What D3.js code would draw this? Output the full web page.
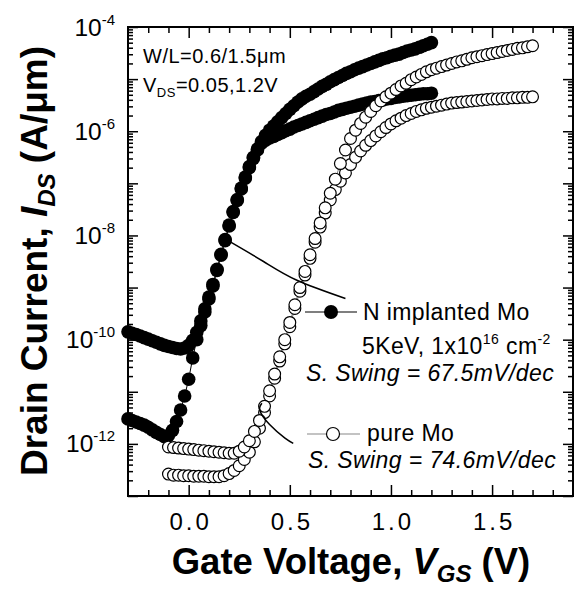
<!DOCTYPE html>
<html>
<head>
<meta charset="utf-8">
<script src="https://cdn.jsdelivr.net/npm/d3@7"></script>
<style>
  body { margin: 0; background: #fff; }
  text { font-family: "Liberation Sans", Arial, Helvetica, sans-serif; fill: #000; }
</style>
</head>
<body>
<div class="chart"></div>
<script>
// gate voltage steps (V)
const nVgs = [-0.30,-0.28,-0.26,-0.24,-0.22,-0.20,-0.18,-0.16,-0.14,-0.12,-0.10,-0.08,-0.06,-0.04,-0.02,
  0.00,0.02,0.04,0.06,0.08,0.10,0.12,0.14,0.16,0.18,0.20,0.22,0.24,0.26,0.28,0.30,0.32,0.34,0.36,0.38,
  0.40,0.42,0.44,0.46,0.48,0.50,0.52,0.54,0.56,0.58,0.60,0.62,0.64,0.66,0.68,0.70,0.72,0.74,0.76,0.78,
  0.80,0.82,0.84,0.86,0.88,0.90,0.92,0.94,0.96,0.98,1.00,1.02,1.04,1.06,1.08,1.10,1.12,1.14,1.16,1.18,1.20];
// N implanted Mo, log10(IDS), VDS = 0.05 V
const nLow = [-11.52,-11.55,-11.58,-11.61,-11.64,-11.68,-11.73,-11.78,-11.82,-11.86,-11.84,-11.74,-11.57,-11.35,-11.08,
  -10.76,-10.35,-10.00,-9.73,-9.47,-9.22,-8.97,-8.67,-8.38,-8.10,-7.82,-7.56,-7.33,-7.11,-6.90,-6.70,-6.52,-6.36,-6.23,-6.17,
  -6.13,-6.10,-6.06,-6.03,-5.99,-5.96,-5.92,-5.89,-5.86,-5.83,-5.80,-5.77,-5.74,-5.71,-5.68,-5.66,-5.63,-5.60,-5.58,-5.56,
  -5.54,-5.52,-5.50,-5.48,-5.46,-5.44,-5.43,-5.41,-5.40,-5.38,-5.37,-5.35,-5.34,-5.33,-5.32,-5.31,-5.30,-5.29,-5.28,-5.28,-5.27];
// N implanted Mo, VDS = 1.2 V
const nHigh = [-9.85,-9.88,-9.90,-9.93,-9.96,-9.99,-10.02,-10.05,-10.08,-10.11,-10.13,-10.15,-10.17,-10.18,-10.16,
  -10.11,-10.01,-9.86,-9.64,-9.41,-9.18,-8.94,-8.65,-8.36,-8.08,-7.80,-7.54,-7.31,-7.09,-6.88,-6.68,-6.50,-6.34,-6.20,-6.08,
  -5.98,-5.90,-5.82,-5.74,-5.66,-5.58,-5.51,-5.44,-5.38,-5.33,-5.29,-5.24,-5.19,-5.14,-5.10,-5.05,-5.01,-4.97,-4.93,-4.89,
  -4.86,-4.82,-4.79,-4.76,-4.73,-4.70,-4.67,-4.64,-4.61,-4.59,-4.56,-4.54,-4.52,-4.49,-4.46,-4.44,-4.42,-4.39,-4.36,-4.33,-4.30];

const pVgs = [-0.100,-0.075,-0.050,-0.025,0.000,0.025,0.050,0.075,0.100,0.125,0.150,0.175,0.200,0.225,0.250,0.275,
  0.300,0.325,0.350,0.375,0.400,0.425,0.450,0.475,0.500,0.525,0.550,0.575,0.600,0.625,0.650,0.675,0.700,0.725,
  0.750,0.775,0.800,0.825,0.850,0.875,0.900,0.925,0.950,0.975,1.000,1.025,1.050,1.075,1.100,1.125,1.150,1.175,
  1.200,1.225,1.250,1.275,1.300,1.325,1.350,1.375,1.400,1.425,1.450,1.475,1.500,1.525,1.550,1.575,1.600,1.625,
  1.650,1.675,1.700];
// pure Mo, VDS = 0.05 V
const pLow = [-12.58,-12.60,-12.60,-12.61,-12.61,-12.62,-12.62,-12.62,-12.63,-12.63,-12.63,-12.61,-12.57,-12.51,-12.42,-12.30,
  -12.16,-11.96,-11.70,-11.40,-11.08,-10.74,-10.41,-10.08,-9.75,-9.40,-9.07,-8.76,-8.44,-8.13,-7.84,-7.57,-7.32,-7.12,
  -6.96,-6.80,-6.64,-6.50,-6.38,-6.27,-6.18,-6.09,-6.01,-5.93,-5.86,-5.80,-5.75,-5.70,-5.66,-5.62,-5.59,-5.56,
  -5.54,-5.52,-5.50,-5.48,-5.46,-5.45,-5.44,-5.43,-5.42,-5.41,-5.40,-5.39,-5.38,-5.38,-5.37,-5.37,-5.36,-5.36,
  -5.35,-5.35,-5.34];
// pure Mo, VDS = 1.2 V
const pHigh = [-12.06,-12.07,-12.08,-12.09,-12.10,-12.11,-12.12,-12.13,-12.14,-12.15,-12.16,-12.17,-12.18,-12.18,-12.14,-12.06,
  -11.94,-11.76,-11.55,-11.28,-10.98,-10.66,-10.33,-10.00,-9.67,-9.33,-9.00,-8.69,-8.37,-8.06,-7.76,-7.47,-7.19,-6.92,
  -6.62,-6.36,-6.14,-5.98,-5.85,-5.73,-5.62,-5.51,-5.42,-5.34,-5.27,-5.20,-5.13,-5.08,-5.01,-4.96,-4.91,-4.86,
  -4.82,-4.79,-4.76,-4.73,-4.70,-4.67,-4.65,-4.62,-4.59,-4.57,-4.55,-4.53,-4.51,-4.49,-4.47,-4.45,-4.43,-4.41,
  -4.40,-4.38,-4.36];

const xMajor = [0.0, 0.5, 1.0, 1.5];
const yLabelExps = [-4, -6, -8, -10, -12];

// swing fit lines (V, log10 I)
const swingN = [[0.195, -8.1], [0.37, -8.5], [0.535, -8.86], [0.775, -9.21]];
const swingP = [[0.362, -11.22], [0.352, -11.36], [0.40, -11.63], [0.476, -11.89], [0.517, -11.99]];

const dims = { width: 578, height: 590 };
const m = { top: 27, right: 5, bottom: 94, left: 128 };

const svg = d3.select(".chart").append("svg")
  .attr("width", dims.width).attr("height", dims.height);

const x = d3.scaleLinear().domain([-0.3, 1.9]).range([m.left, dims.width - m.right]);
const y = d3.scaleLog().domain([1e-13, 1e-4]).range([dims.height - m.bottom, m.top]);

const x0 = m.left, x1 = dims.width - m.right, y0 = dims.height - m.bottom, y1 = m.top;

// ticks
const xMinor = d3.range(-2, 19).map(d => d / 10).filter(d => !xMajor.some(v => Math.abs(v - d) < 1e-9));
const yMajor = d3.range(-13, -3).map(e => Math.pow(10, e));
const yMinor = [];
d3.range(-13, -4).forEach(e => { for (let k = 2; k < 10; k++) yMinor.push(k * Math.pow(10, e)); });

function styleAxis(g) {
  g.select(".domain").remove();
  g.selectAll("line").attr("stroke", "#000").attr("stroke-width", 1.5);
}

svg.append("g").attr("transform", `translate(0,${y0})`)
  .call(d3.axisBottom(x).tickValues(xMinor).tickSize(-6).tickFormat("")).call(styleAxis);
svg.append("g").attr("transform", `translate(0,${y0})`)
  .call(d3.axisBottom(x).tickValues(xMajor).tickSize(-11).tickPadding(17).tickFormat(d3.format(".1f")))
  .call(styleAxis)
  .selectAll("text").style("font-size", "24px").style("letter-spacing", "3px").attr("dx", 1.5).attr("fill", "#000");
svg.append("g").attr("transform", `translate(0,${y1})`)
  .call(d3.axisTop(x).tickValues(xMinor).tickSize(-6).tickFormat("")).call(styleAxis);
svg.append("g").attr("transform", `translate(0,${y1})`)
  .call(d3.axisTop(x).tickValues(xMajor).tickSize(-11).tickFormat("")).call(styleAxis);

svg.append("g").attr("transform", `translate(${x0},0)`)
  .call(d3.axisLeft(y).tickValues(yMinor).tickSize(-5).tickFormat("")).call(styleAxis);
svg.append("g").attr("transform", `translate(${x0},0)`)
  .call(d3.axisLeft(y).tickValues(yMajor).tickSize(-10).tickFormat("")).call(styleAxis);
svg.append("g").attr("transform", `translate(${x1},0)`)
  .call(d3.axisRight(y).tickValues(yMinor).tickSize(-5).tickFormat("")).call(styleAxis);
svg.append("g").attr("transform", `translate(${x1},0)`)
  .call(d3.axisRight(y).tickValues(yMajor).tickSize(-10).tickFormat("")).call(styleAxis);

// y tick labels 10^n
const yl = svg.append("g").selectAll("text").data(yLabelExps).join("text")
  .attr("x", 115).attr("y", d => y(Math.pow(10, d)) + 8.5)
  .attr("text-anchor", "end").style("font-size", "24.5px");
yl.append("tspan").text("10");
yl.append("tspan").attr("dy", -11).style("font-size", "15px").text(d => d);

// frame
svg.append("rect").attr("x", x0).attr("y", y1).attr("width", x1 - x0).attr("height", y0 - y1)
  .attr("fill", "none").attr("stroke", "#000").attr("stroke-width", 2);

// series
const series = [
  { vg: nVgs, lg: nLow, filled: true },
  { vg: nVgs, lg: nHigh, filled: true },
  { vg: pVgs, lg: pLow, filled: false },
  { vg: pVgs, lg: pHigh, filled: false }
];
const line = d3.line().x(d => x(d[0])).y(d => y(Math.pow(10, d[1])));

series.forEach(s => {
  const pts = s.vg.map((v, i) => [v, s.lg[i]]);
  svg.append("path").datum(pts).attr("d", line)
    .attr("fill", "none").attr("stroke", s.filled ? "#000" : "#888").attr("stroke-width", 1);
});
series.filter(s => s.filled).forEach(s => {
  svg.append("g").selectAll("circle").data(s.vg.map((v, i) => [v, s.lg[i]])).join("circle")
    .attr("cx", d => x(d[0])).attr("cy", d => y(Math.pow(10, d[1]))).attr("r", 6.8)
    .attr("fill", "#000");
});
series.filter(s => !s.filled).forEach(s => {
  svg.append("g").selectAll("circle").data(s.vg.map((v, i) => [v, s.lg[i]])).join("circle")
    .attr("cx", d => x(d[0])).attr("cy", d => y(Math.pow(10, d[1]))).attr("r", 5.9)
    .attr("fill", "#fff").attr("stroke", "#000").attr("stroke-width", 1.2);
});

// swing guide lines
const curve = d3.line().curve(d3.curveNatural).x(d => x(d[0])).y(d => y(Math.pow(10, d[1])));
[swingN, swingP].forEach(s => {
  svg.append("path").datum(s).attr("d", curve)
    .attr("fill", "none").attr("stroke", "#000").attr("stroke-width", 1.5);
});

// top-left note
svg.append("text").attr("x", 143).attr("y", 63).style("font-size", "20px").style("letter-spacing", "0.5px")
  .text("W/L=0.6/1.5\u03bcm");
const vds = svg.append("text").attr("x", 143).attr("y", 92).style("font-size", "20px").style("letter-spacing", "0.5px");
vds.append("tspan").text("V");
vds.append("tspan").attr("dy", 5).style("font-size", "13px").text("DS");
vds.append("tspan").attr("dy", -5).text("=0.05,1.2V");

// legend
const lg = svg.append("g").style("letter-spacing", "0.4px");
lg.append("line").attr("x1", 305).attr("x2", 357).attr("y1", 312).attr("y2", 312)
  .attr("stroke", "#000").attr("stroke-width", 1.2);
lg.append("circle").attr("cx", 331).attr("cy", 312).attr("r", 7).attr("fill", "#000");
lg.append("text").attr("x", 363).attr("y", 320).style("font-size", "23px").text("N implanted Mo");
const dose = lg.append("text").attr("x", 362).attr("y", 354).style("font-size", "23px");
dose.append("tspan").text("5KeV, 1x10");
dose.append("tspan").attr("dy", -10).style("font-size", "14px").text("16");
dose.append("tspan").attr("dy", 10).text(" cm");
dose.append("tspan").attr("dy", -10).style("font-size", "14px").text("-2");
lg.append("text").attr("x", 306).attr("y", 381).style("font-size", "23px").style("font-style", "italic")
  .text("S. Swing = 67.5mV/dec");

lg.append("line").attr("x1", 307).attr("x2", 360).attr("y1", 434).attr("y2", 434)
  .attr("stroke", "#888").attr("stroke-width", 1.2);
lg.append("circle").attr("cx", 333).attr("cy", 434).attr("r", 6.5)
  .attr("fill", "#fff").attr("stroke", "#000").attr("stroke-width", 1.2);
lg.append("text").attr("x", 367).attr("y", 441).style("font-size", "23px").text("pure Mo");
lg.append("text").attr("x", 308).attr("y", 468).style("font-size", "23px").style("font-style", "italic")
  .text("S. Swing = 74.6mV/dec");

// axis titles
const xt = svg.append("text").attr("x", 351).attr("y", 574).attr("text-anchor", "middle")
  .style("font-size", "36.5px").style("font-weight", "bold");
xt.append("tspan").text("Gate Voltage, ");
xt.append("tspan").style("font-style", "italic").text("V");
xt.append("tspan").attr("dy", 8).style("font-size", "24px").style("font-style", "italic").text("GS");
xt.append("tspan").attr("dy", -8).text(" (V)");

const ytl = svg.append("text").attr("transform", "translate(47,261) rotate(-90)")
  .attr("text-anchor", "middle").style("font-size", "37px").style("font-weight", "bold");
ytl.append("tspan").text("Drain Current, ");
ytl.append("tspan").style("font-style", "italic").text("I");
ytl.append("tspan").attr("dy", 8).style("font-size", "24px").style("font-style", "italic").text("DS");
ytl.append("tspan").attr("dy", -8).text(" (A/\u03bcm)");
</script>
</body>
</html>
